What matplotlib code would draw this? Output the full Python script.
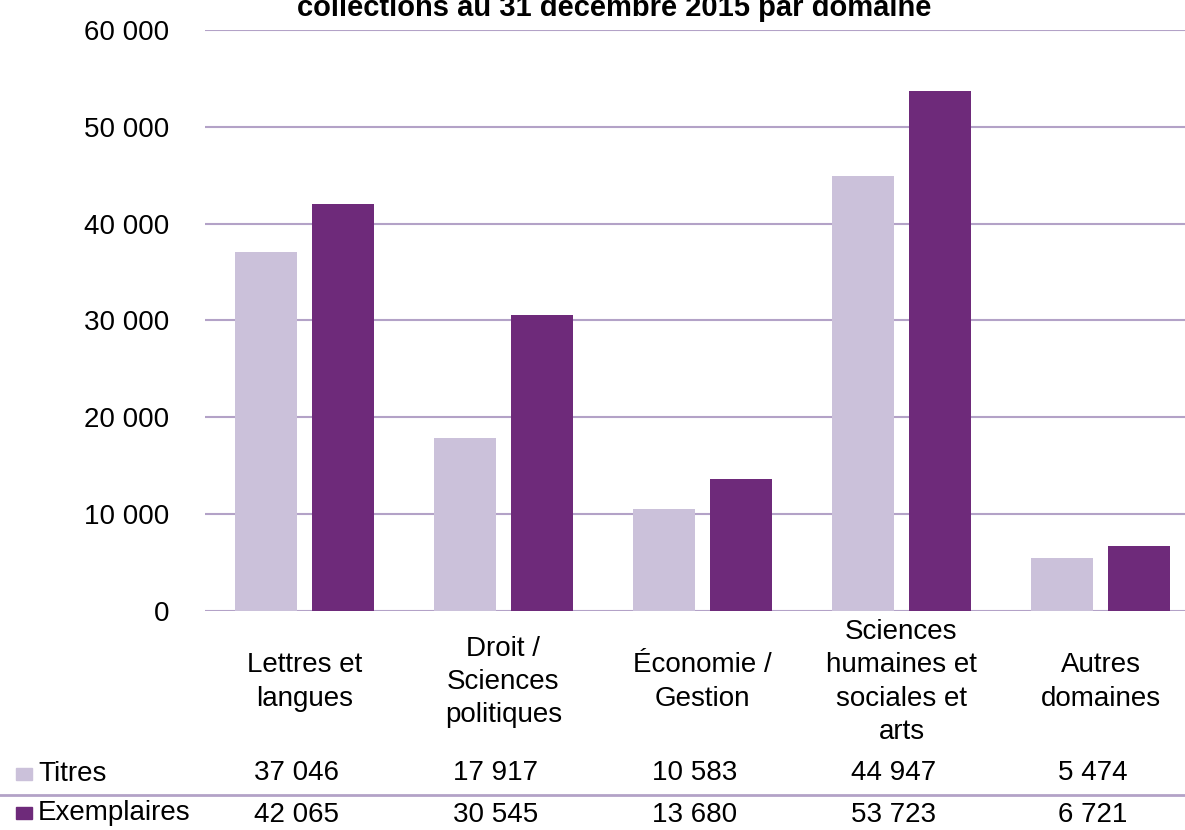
import matplotlib
matplotlib.use('Agg')
import matplotlib.pyplot as plt
from matplotlib.patches import Rectangle
from matplotlib.transforms import blended_transform_factory
import numpy as np

# ── Data ──────────────────────────────────────────────────────────────────────
categories = ['Lettres et\nlangues', 'Droit /\nSciences\npolitiques',
              'Économie /\nGestion', 'Sciences\nhumaines et\nsociales et\narts',
              'Autres\ndomaines']
titres = [37046, 17917, 10583, 44947, 5474]
exemplaires = [42065, 30545, 13680, 53723, 6721]
series_names = ['Titres', 'Exemplaires']
yticks = [0, 10000, 20000, 30000, 40000, 50000, 60000]
title = 'collections au 31 décembre 2015 par domaine'

C_LIGHT = '#CBC1DA'
C_DARK = '#6E2A7A'
C_GRID = '#B3A2C7'

plt.rcParams['font.family'] = ['Liberation Sans', 'DejaVu Sans']

W, H = 1185, 830
fig = plt.figure(figsize=(W / 100, H / 100), dpi=100)

# plot area in pixels: x 205..1200 (slightly past right edge), y 30..611
ax = fig.add_axes([205 / W, (H - 611) / H, 995 / W, 581 / H])
x = np.arange(len(categories))
bw = 0.31
ax.bar(x - 0.195, titres, bw, color=C_LIGHT, zorder=3)
ax.bar(x + 0.195, exemplaires, bw, color=C_DARK, zorder=3)

ax.set_xlim(-0.5, len(categories) - 0.5)
ax.set_ylim(0, 60000)
ax.set_yticks(yticks)
ax.set_yticklabels([f'{v:,}'.replace(',', ' ') for v in yticks], fontsize=20)
ax.tick_params(axis='y', length=0, pad=26)
ax.set_xticks([])
ax.grid(axis='y', color=C_GRID, linewidth=1.5, zorder=0)
for s in ax.spines.values():
    s.set_visible(False)

# title (top part cut off in the original)
fig.text(614 / W, 1 - 16 / H, title, ha='center', va='baseline',
         fontsize=21, fontweight='bold')

# ── Category labels and data table ───────────────────────────────────────────
tr = blended_transform_factory(ax.transData, fig.transFigure)
for i, lab in enumerate(categories):
    fig.text(i, 1 - 682 / H, lab, transform=tr, ha='center', va='center',
             fontsize=20, linespacing=1.36)
    fig.text(i - 0.04, 1 - 773 / H, f'{titres[i]:,}'.replace(',', ' '), transform=tr,
             ha='center', va='center', fontsize=20)
    fig.text(i - 0.04, 1 - 815 / H, f'{exemplaires[i]:,}'.replace(',', ' '), transform=tr,
             ha='center', va='center', fontsize=20)

for name, col, yc in zip(series_names, [C_LIGHT, C_DARK], [774, 813]):
    fig.patches.append(Rectangle((16 / W, 1 - (yc + 6) / H), 16 / W, 12 / H,
                                 transform=fig.transFigure, color=col))
    fig.text(38 / W, 1 - yc / H, name, ha='left', va='center', fontsize=20)

fig.add_artist(plt.Line2D([0, 1], [1 - 795 / H, 1 - 795 / H],
                          transform=fig.transFigure, color=C_GRID, linewidth=2))

fig.savefig('out.png', dpi=100)
